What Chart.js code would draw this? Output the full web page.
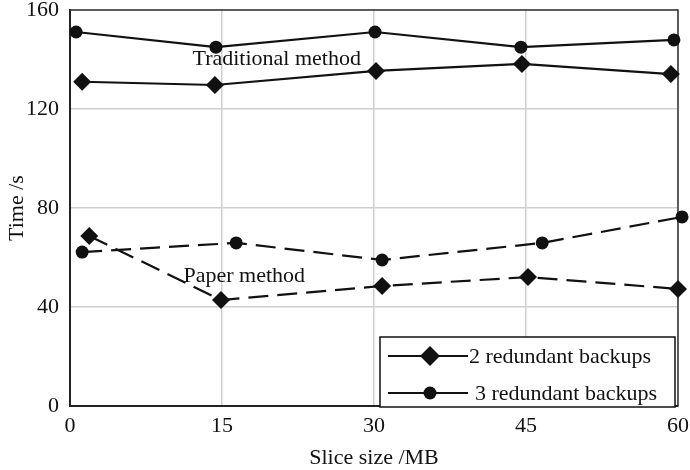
<!DOCTYPE html>
<html>
<head>
<meta charset="utf-8">
<script src="https://cdn.jsdelivr.net/npm/chart.js@4/dist/chart.umd.min.js"></script>
<style>
  html, body { margin: 0; padding: 0; background: #fff; }
  #wrap { width: 690px; height: 470px; }
</style>
</head>
<body>
<div id="wrap"><canvas id="c" width="690" height="470"></canvas></div>
<script>
// values (x = slice size MB, y = time s)
var xTicks = [0, 15, 30, 45, 60];
var yTicks = [0, 40, 80, 120, 160];

var trad2x = [1.2, 14.3, 30.2, 44.6, 59.3];
var trad2y = [131, 129.7, 135.4, 138.2, 134.1];
var trad3x = [0.6, 14.4, 30.1, 44.5, 59.6];
var trad3y = [151.1, 145, 151.1, 145, 147.9];

var paper2x = [1.9, 14.9, 30.8, 45.2, 60];
var paper2y = [68.7, 42.8, 48.5, 52.1, 47.3];
var paper3x = [1.2, 16.4, 30.8, 46.6, 60.4];
var paper3y = [62.2, 65.9, 59, 65.9, 76.4];

var legendNames = ["2 redundant backups", "3 redundant backups"];

var FONT = "'Liberation Serif', 'Times New Roman', serif";

function pts(xs, ys) {
  return xs.map(function(x, i) { return {x: x, y: ys[i]}; });
}

function series(label, xs, ys, style, dashed) {
  var diamond = style === "rectRot";
  return {
    label: label,
    data: pts(xs, ys),
    borderColor: "#111",
    backgroundColor: "#111",
    borderWidth: 2.2,
    borderDash: dashed ? [20, 9] : [],
    pointStyle: style,
    pointRadius: diamond ? 9 : 6.5,
    pointBorderWidth: 0,
    pointHoverRadius: diamond ? 9 : 6.5,
    tension: 0,
    clip: false
  };
}

// annotations + legend box drawn on top
var extras = {
  id: "extras",
  afterDatasetsDraw: function(chart) {
    var ctx = chart.ctx, xs = chart.scales.x, ys = chart.scales.y;
    ctx.save();
    ctx.fillStyle = "#111";
    ctx.font = "22px " + FONT;
    ctx.textAlign = "center";
    ctx.textBaseline = "middle";
    ctx.fillText("Traditional method", xs.getPixelForValue(20.4), ys.getPixelForValue(140.2));
    ctx.fillText("Paper method", xs.getPixelForValue(17.2), ys.getPixelForValue(52.6));

    // legend box
    ctx.fillStyle = "#fff";
    ctx.fillRect(380, 337, 295, 70);
    ctx.strokeStyle = "#111";
    ctx.lineWidth = 1.5;
    ctx.strokeRect(380, 337, 295, 70);
    var rows = [356, 393];
    rows.forEach(function(y, i) {
      ctx.beginPath();
      ctx.lineWidth = 2.2;
      ctx.moveTo(388, y);
      ctx.lineTo(468, y);
      ctx.stroke();
      ctx.fillStyle = "#111";
      ctx.beginPath();
      if (i === 0) {
        ctx.moveTo(430, y - 10); ctx.lineTo(440, y); ctx.lineTo(430, y + 10); ctx.lineTo(420, y);
        ctx.closePath();
      } else {
        ctx.arc(430, y, 6.5, 0, Math.PI * 2);
      }
      ctx.fill();
      ctx.font = "22px " + FONT;
      ctx.textAlign = "left";
      ctx.fillText(legendNames[i], i === 0 ? 469 : 475, y + 1);
    });
    ctx.restore();
  }
};

new Chart(document.getElementById("c"), {
  type: "line",
  data: {
    datasets: [
      series("trad3", trad3x, trad3y, "circle", false),
      series("trad2", trad2x, trad2y, "rectRot", false),
      series("paper2", paper2x, paper2y, "rectRot", true),
      series("paper3", paper3x, paper3y, "circle", true)
    ]
  },
  options: {
    responsive: false,
    animation: false,
    layout: { padding: { top: 10, right: 12, left: 0, bottom: 0 } },
    plugins: { legend: { display: false }, tooltip: { enabled: false } },
    scales: {
      x: {
        type: "linear",
        min: 0, max: 60,
        afterBuildTicks: function(s) { s.ticks = xTicks.map(function(v) { return {value: v}; }); },
        afterFit: function(s) { s.height = 64; s.paddingLeft = 0; s.paddingRight = 0; },
        grid: { color: "#cfcfcf", lineWidth: 1.5, drawTicks: false },
        border: { color: "#222", width: 2 },
        ticks: { color: "#111", font: { family: FONT, size: 22 }, padding: 7 },
        title: { display: true, text: "Slice size /MB", color: "#111", font: { family: FONT, size: 22, lineHeight: 1 }, padding: { top: 0, bottom: 1 } }
      },
      y: {
        min: 0, max: 160,
        afterBuildTicks: function(s) { s.ticks = yTicks.map(function(v) { return {value: v}; }); },
        afterFit: function(s) { s.width = 70; s.paddingTop = 0; s.paddingBottom = 0; },
        grid: { color: "#cfcfcf", lineWidth: 1.5, drawTicks: false },
        border: { color: "#222", width: 2 },
        ticks: { color: "#111", font: { family: FONT, size: 22 }, padding: 11 },
        title: { display: true, text: "Time /s", color: "#111", font: { family: FONT, size: 22 }, padding: { bottom: 0 } }
      }
    }
  },
  plugins: [extras, {
    id: "frame",
    beforeDatasetsDraw: function(chart) {
      var a = chart.chartArea, ctx = chart.ctx;
      ctx.save();
      ctx.strokeStyle = "#333";
      ctx.lineWidth = 1.5;
      ctx.beginPath();
      ctx.moveTo(a.left, a.top); ctx.lineTo(a.right, a.top); ctx.lineTo(a.right, a.bottom);
      ctx.stroke();
      ctx.restore();
    }
  }]
});
</script>
</body>
</html>
